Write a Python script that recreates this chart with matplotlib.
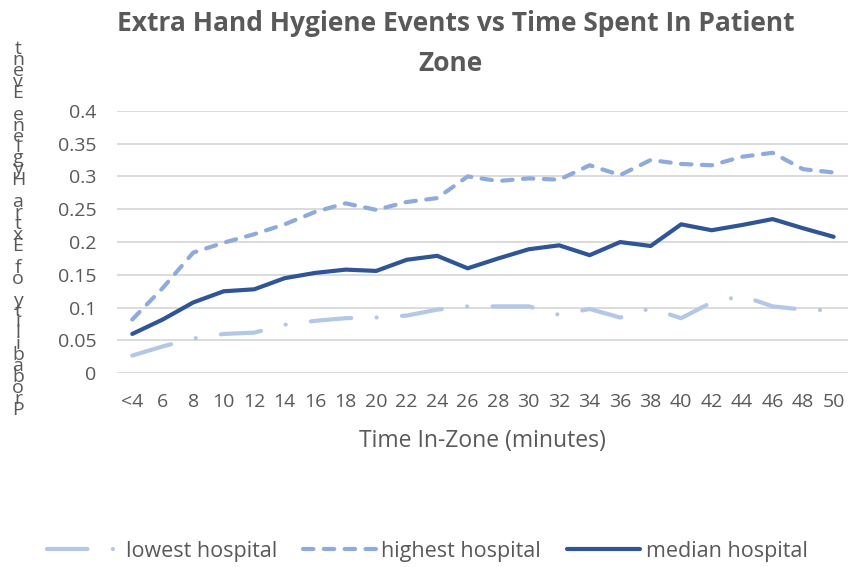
import matplotlib
matplotlib.use("Agg")
import matplotlib.pyplot as plt
from matplotlib.lines import Line2D

plt.rcParams['font.family'] = ['Open Sans', 'DejaVu Sans']

# ============================
# Datos
# ============================
categories = ["<4", "6", "8", "10", "12", "14", "16", "18", "20", "22", "24", "26",
              "28", "30", "32", "34", "36", "38", "40", "42", "44", "46", "48", "50"]
lowest = [0.027, 0.041, 0.053, 0.060, 0.062, 0.074, 0.080, 0.084, 0.085, 0.088, 0.097, 0.102,
          0.102, 0.102, 0.089, 0.098, 0.085, 0.099, 0.084, 0.108, 0.118, 0.102, 0.097, 0.096]
highest = [0.082, 0.130, 0.184, 0.199, 0.212, 0.227, 0.246, 0.259, 0.249, 0.261, 0.267, 0.300,
           0.293, 0.297, 0.295, 0.317, 0.302, 0.325, 0.319, 0.317, 0.330, 0.336, 0.311, 0.306]
median = [0.060, 0.082, 0.108, 0.125, 0.128, 0.145, 0.153, 0.158, 0.156, 0.173, 0.179, 0.160,
          0.175, 0.189, 0.195, 0.180, 0.200, 0.194, 0.227, 0.218, 0.226, 0.235, 0.221, 0.208]
yticks = [0, 0.05, 0.1, 0.15, 0.2, 0.25, 0.3, 0.35, 0.4]
ytick_labels = ["0", "0.05", "0.1", "0.15", "0.2", "0.25", "0.3", "0.35", "0.4"]

c_low = "#B4C7E7"
c_high = "#8FAADC"
c_med = "#2F5597"
gray = "#595959"
lw = 3.0

fig = plt.figure(figsize=(8.48, 5.67), dpi=100)
ax = fig.add_axes([0.138, 0.3416, 0.863, 0.463])

x = list(range(len(categories)))
ax.plot(x, lowest, color=c_low, lw=lw, dashes=(9.7, 6.1, 0.01, 6.1),
        dash_capstyle='round', solid_capstyle='round', label="lowest hospital")
ax.plot(x, highest, color=c_high, lw=lw, dashes=(2.5, 2.5),
        dash_capstyle='round', label="highest hospital")
ax.plot(x, median, color=c_med, lw=lw, solid_capstyle='round', label="median hospital")

ax.set_xlim(-0.5, len(categories) - 0.5)
ax.set_ylim(0, 0.4)
ax.set_yticks(yticks)
ax.set_yticklabels(ytick_labels)
ax.set_xticks(x)
ax.set_xticklabels(categories)
ax.tick_params(length=0, labelsize=14, colors=gray, pad=15)
ax.tick_params(axis='x', pad=14)
ax.yaxis.grid(True, color="#D9D9D9", lw=1.3)
ax.set_axisbelow(True)
for s in ax.spines.values():
    s.set_visible(False)

ax.set_xlabel("Time In-Zone (minutes)", fontsize=16.5, color=gray, labelpad=13)

fig.text(0.537, 0.958, "Extra Hand Hygiene Events vs Time Spent In Patient",
         ha='center', va='center', fontsize=19, fontweight='bold', color=gray)
fig.text(0.531, 0.888, "Zone", ha='center', va='center', fontsize=19,
         fontweight='bold', color=gray)

# etiqueta vertical apilada
ylab = "Probability of Extra Hygiene Event"[::-1]
y0, y1 = 49, 410
step = (y1 - y0) / (len(ylab) - 1)
for i, ch in enumerate(ylab):
    fig.text(18 / 848, 1 - (y0 + i * step) / 567, ch, ha='center', va='center',
             fontsize=14, color=gray)

handles = [
    Line2D([], [], color=c_low, lw=lw, dashes=(9.7, 6.1, 0.01, 6.1), dash_capstyle='round'),
    Line2D([], [], color=c_high, lw=lw, dashes=(2.5, 2.5), dash_capstyle='round'),
    Line2D([], [], color=c_med, lw=lw, solid_capstyle='round'),
]
fig.legend(handles, ["lowest hospital", "highest hospital", "median hospital"],
           loc='center', bbox_to_anchor=(0.504, 0.028), ncol=3, frameon=False,
           fontsize=15.5, handlelength=3.4, columnspacing=1.2, handletextpad=0.25,
           labelcolor=gray)

fig.savefig("out.png", dpi=100)
